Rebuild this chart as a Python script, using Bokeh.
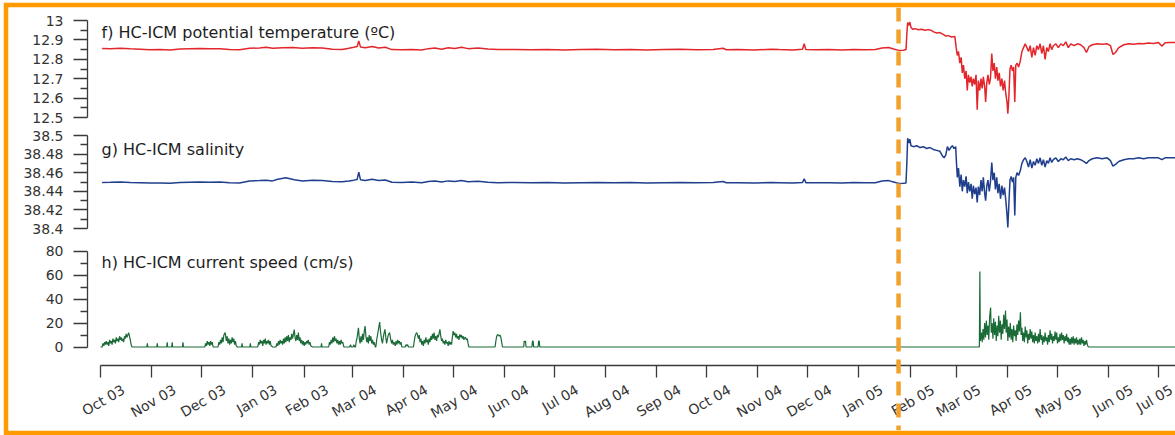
import math
import pandas as pd
from bokeh.plotting import figure
from bokeh.models import Range1d, LinearAxis, FixedTicker, Span, Label
from bokeh.embed import file_html
from bokeh.resources import INLINE

# ---------------- data (day offsets from START) ----------------
START = "2003-10-01"
EVENT_DATE = "2005-01-25"

month_starts = ["2003-10-01", "2003-11-01", "2003-12-01", "2004-01-01", "2004-02-01", "2004-03-01",
                "2004-04-01", "2004-05-01", "2004-06-01", "2004-07-01", "2004-08-01", "2004-09-01",
                "2004-10-01", "2004-11-01", "2004-12-01", "2005-01-01", "2005-02-01", "2005-03-01",
                "2005-04-01", "2005-05-01", "2005-06-01", "2005-07-01"]
month_labels = ["Oct 03", "Nov 03", "Dec 03", "Jan 03", "Feb 03", "Mar 04", "Apr 04", "May 04",
                "Jun 04", "Jul 04", "Aug 04", "Sep 04", "Oct 04", "Nov 04", "Dec 04", "Jan 05",
                "Feb 05", "Mar 05", "Apr 05", "May 05", "Jun 05", "Jul 05"]

temp_ticks = [12.5, 12.6, 12.7, 12.8, 12.9, 13.0]
temp_labels = ["12.5", "12.6", "12.7", "12.8", "12.9", "13"]
sal_ticks = [38.40, 38.42, 38.44, 38.46, 38.48, 38.50]
sal_labels = ["38.4", "38.42", "38.44", "38.46", "38.48", "38.5"]
spd_ticks = [0, 20, 40, 60, 80]
spd_labels = ["0", "20", "40", "60", "80"]

titles = ["f) HC-ICM potential temperature (\u00baC)", "g) HC-ICM salinity", "h) HC-ICM current speed (cm/s)"]

temp_pts = [
    (1, 12.856), (6, 12.855), (12, 12.857), (18, 12.854), (24, 12.852), (30, 12.849), (36, 12.850),
    (42, 12.848), (48, 12.853), (54, 12.855), (60, 12.856), (66, 12.854), (72, 12.855), (78, 12.850),
    (84, 12.849), (90, 12.857), (96, 12.858), (100, 12.862), (104, 12.857), (110, 12.859), (116, 12.861),
    (122, 12.857), (128, 12.860), (134, 12.858), (140, 12.852), (146, 12.851), (150, 12.857), (153, 12.862),
    (155, 12.866), (156, 12.895), (157, 12.864), (160, 12.860), (164, 12.866), (168, 12.858), (172, 12.862),
    (176, 12.850), (182, 12.849), (188, 12.851), (194, 12.848), (198, 12.855), (202, 12.858), (206, 12.852),
    (210, 12.860), (214, 12.856), (218, 12.862), (222, 12.855), (228, 12.858), (234, 12.853), (240, 12.850),
    (250, 12.851), (260, 12.849), (270, 12.850), (280, 12.848), (290, 12.850), (300, 12.852), (310, 12.849),
    (320, 12.851), (330, 12.848), (340, 12.850), (350, 12.852), (360, 12.849), (370, 12.851), (376, 12.857),
    (378, 12.849), (385, 12.850), (395, 12.848), (405, 12.852), (410, 12.850), (418, 12.848), (424, 12.852),
    (425, 12.880), (426, 12.850), (432, 12.849), (440, 12.850), (448, 12.848), (455, 12.851), (462, 12.849),
    (468, 12.850), (472, 12.858), (476, 12.861), (479, 12.853), (482, 12.846), (485, 12.847), (486.5, 12.850),
    (487.0, 12.93), (487.5, 12.99), (488.2, 12.975), (488.8, 12.992), (489.5, 12.965), (490.5, 12.955),
    (492, 12.958), (494, 12.952), (496, 12.955), (498, 12.950), (500, 12.953), (502, 12.948), (503.5, 12.940),
    (505, 12.936), (507, 12.938), (509, 12.928), (510.5, 12.920), (512, 12.922), (514, 12.915), (516, 12.918),
    (516.8, 12.86), (517.5, 12.82), (518.2, 12.84), (519, 12.78), (519.8, 12.81), (520.5, 12.73), (521.2, 12.77),
    (522, 12.70), (522.8, 12.74), (523.5, 12.64), (524.2, 12.72), (525, 12.68), (525.8, 12.71), (526.5, 12.66),
    (527.2, 12.70), (528, 12.67), (528.8, 12.72), (529.5, 12.54), (530.2, 12.69), (531, 12.64), (531.8, 12.70),
    (532.5, 12.65), (533.2, 12.71), (534, 12.66), (534.6, 12.58), (535.3, 12.68), (536, 12.72), (536.8, 12.67),
    (537.5, 12.70), (538.3, 12.83), (539, 12.74), (539.8, 12.78), (540.5, 12.70), (541.3, 12.76), (542, 12.69),
    (542.8, 12.73), (543.6, 12.66), (544.4, 12.70), (545.2, 12.64), (546, 12.69), (546.8, 12.62), (547.5, 12.58),
    (548, 12.52), (548.6, 12.60), (549.3, 12.75), (550, 12.77), (550.8, 12.74), (551.5, 12.76), (552.2, 12.58),
    (552.8, 12.77), (553.6, 12.78), (554.5, 12.76), (555.5, 12.79), (556.5, 12.84), (557.5, 12.86), (558.5, 12.88),
    (559.5, 12.86), (560.5, 12.84), (561.5, 12.87), (562.5, 12.81), (563.5, 12.86), (564.5, 12.82), (565.5, 12.87),
    (566.5, 12.85), (567.5, 12.88), (568.5, 12.83), (569.5, 12.87), (570.5, 12.80), (571.5, 12.86), (572.5, 12.84),
    (573.5, 12.88), (574.5, 12.85), (575.5, 12.87), (577, 12.88), (578.5, 12.86), (580, 12.88), (581.5, 12.87),
    (583, 12.89), (584.5, 12.86), (586, 12.88), (588, 12.87), (590, 12.88), (592, 12.875), (594, 12.86),
    (595.5, 12.835), (597, 12.865), (599, 12.875), (602, 12.880), (605, 12.878), (608, 12.880), (610, 12.870),
    (611.5, 12.825), (613, 12.835), (615, 12.86), (618, 12.875), (621, 12.880), (624, 12.878), (627, 12.882),
    (630, 12.880), (633, 12.884), (636, 12.882), (639, 12.886), (641, 12.868), (643, 12.885), (646, 12.887),
    (652, 12.886),
]

sal_pts = [
    (1, 38.4495), (6, 38.4497), (12, 38.4500), (18, 38.4495), (24, 38.4492), (30, 38.4488), (36, 38.4490),
    (42, 38.4487), (48, 38.4495), (54, 38.4498), (60, 38.4500), (66, 38.4497), (72, 38.4500), (78, 38.4493),
    (84, 38.4490), (90, 38.4510), (96, 38.4515), (100, 38.4520), (104, 38.4512), (107, 38.4530), (112, 38.4545),
    (117, 38.4525), (122, 38.4512), (128, 38.4518), (134, 38.4515), (140, 38.4505), (146, 38.4503), (150, 38.4512),
    (153, 38.4520), (155, 38.4528), (156, 38.4605), (157, 38.4525), (160, 38.4515), (164, 38.4530), (168, 38.4515),
    (172, 38.4522), (176, 38.4498), (182, 38.4495), (188, 38.4500), (194, 38.4493), (198, 38.4505), (202, 38.4510),
    (206, 38.4500), (210, 38.4512), (214, 38.4505), (218, 38.4515), (222, 38.4502), (228, 38.4507), (234, 38.4498),
    (240, 38.4493), (250, 38.4495), (260, 38.4491), (270, 38.4494), (280, 38.4490), (290, 38.4493), (300, 38.4495),
    (310, 38.4491), (320, 38.4494), (330, 38.4490), (340, 38.4493), (350, 38.4495), (360, 38.4491), (370, 38.4494),
    (376, 38.4505), (378, 38.4492), (385, 38.4493), (395, 38.4490), (405, 38.4495), (410, 38.4493), (418, 38.4490),
    (424, 38.4495), (425, 38.4535), (426, 38.4493), (432, 38.4491), (440, 38.4493), (448, 38.4490), (455, 38.4494),
    (462, 38.4491), (468, 38.4493), (472, 38.4510), (476, 38.4515), (479, 38.4500), (482, 38.4485), (485, 38.4487),
    (486.5, 38.4490), (487, 38.470), (487.5, 38.497), (488.2, 38.492), (488.8, 38.496), (489.5, 38.489),
    (491, 38.488), (493, 38.489), (495, 38.487), (497, 38.488), (499, 38.486), (501, 38.487), (503, 38.485),
    (505, 38.484), (507, 38.483), (508.5, 38.478), (509.5, 38.476), (510.5, 38.479), (511.5, 38.488),
    (512.5, 38.484), (513.5, 38.487), (514.5, 38.489), (515.5, 38.486), (516.5, 38.488), (517, 38.470),
    (517.5, 38.455), (518.2, 38.465), (519, 38.445), (519.8, 38.458), (520.5, 38.440), (521.2, 38.452),
    (522, 38.445), (522.8, 38.456), (523.5, 38.438), (524.2, 38.450), (525, 38.440), (525.8, 38.448),
    (526.5, 38.432), (527.2, 38.446), (528, 38.437), (528.8, 38.444), (529.5, 38.428), (530.2, 38.445),
    (531, 38.436), (531.8, 38.452), (532.5, 38.440), (533.2, 38.455), (534, 38.438), (534.6, 38.430),
    (535.3, 38.446), (536, 38.452), (536.8, 38.440), (537.5, 38.450), (538.3, 38.471), (539, 38.452),
    (539.8, 38.460), (540.5, 38.442), (541.3, 38.455), (542, 38.438), (542.8, 38.448), (543.6, 38.432),
    (544.4, 38.446), (545.2, 38.436), (546, 38.444), (546.8, 38.430), (547.5, 38.415), (548, 38.401),
    (548.6, 38.425), (549.3, 38.452), (550, 38.456), (550.8, 38.450), (551.5, 38.455), (552.2, 38.414),
    (552.8, 38.455), (553.6, 38.460), (554.5, 38.457), (555.5, 38.462), (556.5, 38.470), (557.5, 38.474),
    (558.5, 38.476), (559.5, 38.472), (560.5, 38.466), (561.5, 38.474), (562.5, 38.465), (563.5, 38.472),
    (564.5, 38.468), (565.5, 38.475), (566.5, 38.470), (567.5, 38.476), (568.5, 38.468), (569.5, 38.474),
    (570.5, 38.466), (571.5, 38.473), (572.5, 38.470), (573.5, 38.476), (574.5, 38.471), (575.5, 38.474),
    (577, 38.476), (578.5, 38.472), (580, 38.475), (581.5, 38.474), (583, 38.477), (584.5, 38.473),
    (586, 38.475), (588, 38.474), (590, 38.475), (592, 38.474), (594, 38.472), (595.5, 38.470), (597, 38.473),
    (599, 38.475), (602, 38.476), (605, 38.475), (608, 38.476), (610, 38.473), (611.5, 38.467), (613, 38.469),
    (615, 38.472), (618, 38.474), (621, 38.475), (624, 38.475), (627, 38.476), (630, 38.475), (633, 38.476),
    (636, 38.476), (639, 38.476), (641, 38.474), (643, 38.476), (646, 38.476), (652, 38.476),
]

spd_pts = [
    (0, 0), (1, 0), (1.5, 3), (2, 1), (2.5, 4), (3, 2), (3.5, 5), (4, 2), (4.5, 4), (5, 1), (5.5, 6), (6, 3),
    (6.5, 5), (7, 2), (7.5, 7), (8, 4), (8.5, 6), (9, 3), (9.5, 8), (10, 5), (10.5, 7), (11, 4), (11.5, 9),
    (12, 6), (12.5, 8), (13, 5), (13.5, 7), (14, 4), (14.5, 9), (15, 7), (15.5, 11), (16, 8), (16.5, 10),
    (17, 12), (17.5, 9), (18, 6), (18.5, 2), (19, 0),
    (28, 0), (28.3, 3), (28.6, 0), (34, 0), (34.3, 3), (34.6, 0), (40, 0), (40.3, 4), (40.6, 0),
    (43, 0), (43.3, 4), (43.6, 0), (49.5, 0), (49.8, 4), (50.1, 0),
    (63, 0), (63.5, 3), (64, 1), (64.5, 5), (65, 2), (65.5, 4), (66, 1), (66.5, 5), (67, 2), (67.5, 4), (68, 0),
    (71, 0), (71.5, 4), (72, 2), (72.5, 6), (73, 3), (73.5, 8), (74, 4), (74.5, 10), (75.3, 12), (76, 5),
    (76.5, 9), (77, 3), (77.5, 7), (78, 2), (78.5, 6), (79, 3), (79.5, 8), (80, 4), (80.5, 7), (81, 2),
    (81.5, 5), (82, 1), (82.7, 0),
    (85.2, 0), (85.5, 3), (85.8, 0), (90.2, 0), (90.5, 3), (90.8, 0),
    (95, 0), (95.5, 4), (96, 2), (96.5, 6), (97, 3), (97.5, 5), (98, 1), (98.5, 6), (99, 3), (99.5, 7),
    (100, 2), (100.5, 5), (101, 3), (101.5, 6), (102, 2), (102.5, 5), (103, 1), (104, 0),
    (106, 0), (106.5, 3), (107, 1), (107.5, 5), (108, 2), (108.5, 6), (109, 3), (109.5, 5), (110, 2),
    (110.5, 7), (111, 3), (111.5, 8), (112, 4), (112.5, 9), (113, 5), (113.5, 10), (114, 4), (114.5, 8),
    (115, 6), (115.5, 11), (116, 7), (117, 14.5), (117.5, 8), (118, 5), (118.5, 10), (119, 6), (119.5, 12),
    (120, 5), (120.5, 8), (121, 3), (121.5, 6), (122, 2), (122.5, 5), (123, 1), (123.5, 4), (124, 2),
    (124.5, 5), (125, 3), (125.5, 6), (126, 2), (126.5, 4), (127, 1), (128, 0),
    (133.2, 0), (133.5, 3), (133.8, 0),
    (137.8, 0), (138.3, 4), (138.8, 2), (139.3, 6), (139.8, 3), (140.3, 8), (140.8, 4), (141.3, 9),
    (141.8, 5), (142.3, 7), (142.8, 3), (143.3, 6), (143.8, 2), (144.3, 5), (144.8, 2), (145.3, 6),
    (145.8, 3), (146.3, 4), (147, 0),
    (150.5, 0), (151, 2), (151.5, 0), (152.5, 0), (153, 2), (153.5, 0),
    (154, 0), (154.5, 5), (155, 8), (155.8, 16), (156.3, 7), (156.8, 3), (157.3, 9), (157.8, 4), (158.3, 11),
    (158.8, 6), (159.3, 13), (159.8, 17.5), (160.3, 9), (160.8, 4), (161.3, 8), (161.8, 3), (162.3, 10),
    (162.8, 5), (163.3, 9), (163.8, 3), (164.3, 6), (164.8, 2), (165.3, 4), (166, 0),
    (166.3, 0), (166.8, 6), (167.3, 10), (167.8, 14), (168.6, 20.8), (169.2, 12), (169.8, 6), (170.3, 3),
    (170.8, 8), (171.3, 12), (171.8, 14.7), (172.3, 8), (172.8, 3), (173.3, 7), (173.8, 10), (174.6, 12),
    (175.2, 7), (175.8, 3), (176.3, 6), (176.8, 2), (177.3, 4), (178, 1), (178.5, 5), (179, 2), (179.5, 6),
    (180, 3), (180.5, 5), (181, 2), (181.5, 4), (182, 0),
    (184, 0), (184.5, 2), (185, 1), (185.5, 2), (186, 0),
    (189, 0), (189.5, 5), (190, 9), (190.5, 11), (191, 12), (191.5, 10), (192, 7), (192.5, 10), (193, 4),
    (193.5, 7), (194, 2), (194.5, 5), (195, 1), (195.5, 6), (196, 3), (196.5, 8), (197, 4), (197.5, 6),
    (198, 2), (198.5, 7), (199, 4), (199.5, 9), (200, 6), (200.5, 11), (201, 7), (201.5, 12), (202, 6),
    (202.5, 9), (203, 5), (203.5, 10), (204, 8), (205, 14.7), (205.5, 9), (206, 5), (206.5, 7), (207, 3),
    (207.5, 5), (208, 2), (208.5, 6), (209, 3), (209.5, 4), (210, 1), (210.5, 5), (211, 2), (211.5, 4),
    (212, 2), (212.5, 8), (213, 13.3), (213.5, 10), (214, 12), (214.5, 8), (215, 11), (215.5, 7), (216, 9),
    (216.5, 6), (217, 10.5), (217.5, 8), (218, 10), (218.5, 7), (219, 9), (219.5, 6), (220, 8), (220.5, 7.8),
    (221, 6), (221.5, 7), (222, 3), (222.5, 0),
    (238.3, 0), (238.8, 5), (239.3, 9), (239.8, 10.5), (240.3, 10), (240.8, 9), (241.3, 10), (241.8, 8),
    (242.3, 4), (242.8, 0),
    (255.6, 0), (255.9, 5), (256.4, 4), (256.7, 5), (257, 0), (260.6, 0), (260.9, 5), (261.3, 5), (261.6, 0),
    (264.3, 0), (264.6, 5), (265, 5), (265.3, 0),
    (530.8, 0), (531.1, 63), (531.4, 5), (532, 12), (532.5, 4), (533, 15), (533.5, 6), (534, 20), (534.5, 8),
    (535, 22), (535.5, 10), (536, 18), (536.5, 6), (537, 25), (537.6, 33), (538, 12), (538.5, 20), (539, 7),
    (539.5, 24), (540, 10), (540.5, 21), (541, 5), (541.5, 18), (542, 9), (542.5, 26), (543, 12), (543.5, 22),
    (544, 6), (544.5, 19), (545, 11), (545.5, 27), (546, 15), (546.6, 30.5), (547, 12), (547.5, 23), (548, 5),
    (548.5, 17), (549, 8), (549.5, 20), (550, 6), (550.5, 15), (551, 4), (551.5, 18), (552, 9), (552.5, 14),
    (553, 5), (553.5, 19), (554, 10), (554.5, 22), (555, 13), (555.6, 29), (556, 10), (556.5, 16), (557, 5),
    (557.5, 12), (558, 4), (558.5, 17), (559, 8), (559.5, 14), (560, 3), (560.5, 11), (561, 6), (561.5, 15),
    (562, 7), (562.5, 13), (563, 4), (563.5, 10), (564, 3), (564.5, 12), (565, 5), (565.5, 9), (566, 3),
    (566.5, 11), (567, 4), (567.5, 15), (568, 6), (568.5, 10), (569, 2), (569.5, 9), (570, 4), (570.5, 12),
    (571, 5), (571.5, 8), (572, 2), (572.5, 10), (573, 4), (573.5, 14), (574, 6), (574.5, 11), (575, 3),
    (575.5, 9), (576, 5), (576.5, 13), (577, 6), (577.5, 12), (578, 3), (578.5, 8), (579, 4), (579.5, 11),
    (580, 5), (580.5, 12), (581, 6), (581.5, 10), (582, 3), (582.5, 9), (583, 5), (583.5, 11), (584, 4),
    (584.5, 8), (585, 2), (585.5, 7), (586, 2), (586.5, 8), (587, 3), (587.5, 9), (588, 2), (588.5, 7),
    (589, 3), (589.5, 8), (590, 2), (590.5, 6), (591, 2), (591.5, 7), (592, 2), (592.5, 8), (593, 3),
    (593.5, 6), (594, 1), (594.5, 5), (595, 2), (595.5, 6), (596, 2), (596.6, 0), (652, 0),
]

# ---------------- layout helpers (pixel geometry of the page) ----------------
FIG_W, FIG_H = 1172, 433
B_L, B_T, B_B = 5, 5, 5          # orange frame width
FR_L, FR_R = 8, 1175             # frame in page px
FR_T, FR_B = 7, 430

t0 = pd.Timestamp(START)
def day(s):
    return (pd.Timestamp(s) - t0).days

month_d = [float(day(s)) for s in month_starts]
PX_A, PX_B = 100.0, 1158.0       # page px of first and last month ticks
ppd = (PX_B - PX_A) / (month_d[-1] - month_d[0])
def d_at(px):
    return (px - PX_A) / ppd

def vrange(v_hi, py_hi, v_lo, py_lo):
    k = (py_lo - py_hi) / (v_hi - v_lo)
    return Range1d(v_lo - (FR_B - py_lo) / k, v_hi + (py_hi - FR_T) / k)

temp_rng = vrange(13.0, 20.0, 12.5, 117.0)
sal_rng = vrange(38.5, 135.0, 38.4, 228.0)
spd_rng = vrange(80.0, 250.7, 0.0, 346.5)

def v_at(rng, py):
    return rng.start + (FR_B - py) / (FR_B - FR_T) * (rng.end - rng.start)

ORANGE = "#FF9A00"
AX = "#3a3a3a"
FONT = "DejaVu Sans"

X_START, X_END = d_at(FR_L), d_at(FR_R)
p = figure(width=FIG_W, height=FIG_H, output_backend="svg", toolbar_location=None,
           x_axis_type=None, y_axis_type=None,
           x_range=Range1d(X_START, X_END), y_range=spd_rng,
           min_border_left=B_L, min_border_right=0, min_border_top=B_T, min_border_bottom=B_B,
           border_fill_color=ORANGE, background_fill_color="white", outline_line_color=None,
           styles={"margin-left": "3px", "margin-top": "2px"})
p.extra_y_ranges = {"temp": temp_rng, "sal": sal_rng}

# ---------------- y axes ----------------
YAX_D = d_at(87.0)
def yaxis(rng_name, ticks, labels, step):
    minor = [ticks[0] + step * (i + 0.5) for i in range(len(ticks) - 1)]
    ax = LinearAxis(y_range_name=rng_name, fixed_location=YAX_D, bounds=(ticks[0], ticks[-1]),
                    ticker=FixedTicker(ticks=ticks, minor_ticks=minor),
                    major_label_overrides=dict(zip(ticks, labels)),
                    axis_line_color=AX, axis_line_width=1.3,
                    major_tick_line_color=AX, major_tick_line_width=1.3, major_tick_in=0, major_tick_out=14,
                    minor_tick_line_color=AX, minor_tick_line_width=1.3, minor_tick_in=0, minor_tick_out=7,
                    major_label_standoff=10, major_label_text_font=FONT,
                    major_label_text_font_size="14px", major_label_text_color="#333333")
    p.add_layout(ax, "left")

yaxis("temp", temp_ticks, temp_labels, 0.1)
yaxis("sal", sal_ticks, sal_labels, 0.02)
yaxis("default", spd_ticks, spd_labels, 20)

# ---------------- x axis (ticks) + label axis ----------------
XAX_V = v_at(spd_rng, 365.0)
xa = LinearAxis(fixed_location=XAX_V, bounds=(month_d[0], month_d[-1] + 60),
                ticker=FixedTicker(ticks=month_d, minor_ticks=[]),
                axis_line_color=AX, axis_line_width=1.3,
                major_tick_line_color=AX, major_tick_line_width=1.3, major_tick_in=0, major_tick_out=12,
                minor_tick_line_color=None, major_label_text_color=None)
p.add_layout(xa, "below")

LAB_SHIFT = 23.0 / ppd
lab_ticks = [min(d + LAB_SHIFT, X_END - 0.05) for d in month_d]
xl = LinearAxis(fixed_location=XAX_V, ticker=FixedTicker(ticks=lab_ticks, minor_ticks=[]),
                major_label_overrides=dict(zip(lab_ticks, month_labels)),
                axis_line_color=None, major_tick_line_color=None, minor_tick_line_color=None,
                major_tick_in=0, major_tick_out=0, major_label_standoff=23,
                major_label_orientation=math.radians(30),
                major_label_text_font=FONT, major_label_text_font_size="14px",
                major_label_text_color="#333333")
p.add_layout(xl, "below")

# ---------------- series ----------------
p.line([d for d, _ in temp_pts], [v for _, v in temp_pts], y_range_name="temp",
       line_color="#E3262B", line_width=1.5)
p.line([d for d, _ in sal_pts], [v for _, v in sal_pts], y_range_name="sal",
       line_color="#1F3E8C", line_width=1.5)
p.line([d for d, _ in spd_pts], [v for _, v in spd_pts],
       line_color="#1B6B38", line_width=1.2)

# ---------------- event line ----------------
p.add_layout(Span(location=float(day(EVENT_DATE)), dimension="height", line_color="#F2A22C",
                  line_width=4.5, line_dash="14 8"))

# ---------------- panel titles ----------------
title_pos = [("temp", v_at(temp_rng, 32.0)), ("sal", v_at(sal_rng, 149.0)), ("default", v_at(spd_rng, 262.0))]
for txt, (rn, yv) in zip(titles, title_pos):
    p.add_layout(Label(x=d_at(101.0), y=yv, y_range_name=rn, text=txt, text_font=FONT,
                       text_font_size="16px", text_color="#1e1e1e", text_baseline="alphabetic"))

open("out.html", "w").write(file_html(p, INLINE))
